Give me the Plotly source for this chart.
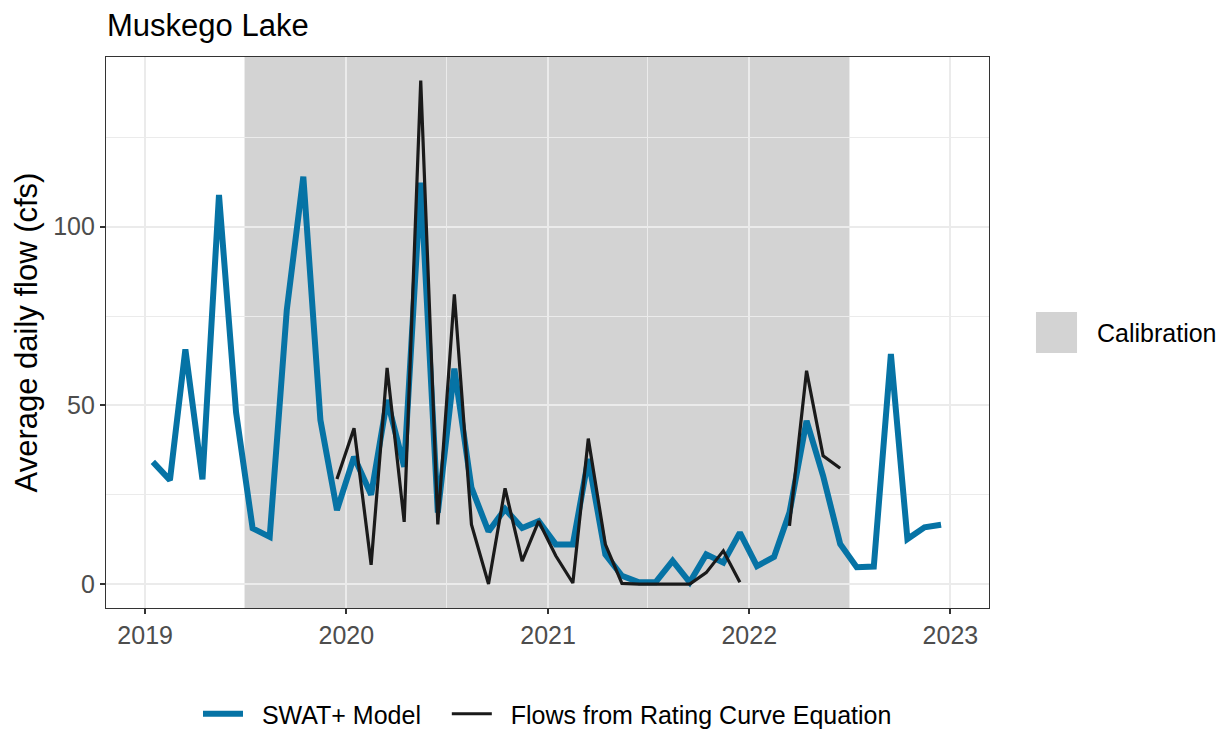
import plotly.graph_objects as go

# ---- data (monthly, plotted mid-month) ----
months = [f"{y}-{m:02d}-15" for y in (2019, 2020, 2021, 2022) for m in range(1, 13)]

swat_model = [
    34.2, 29.1, 65.7, 29.3, 108.9, 48.0, 15.6, 13.2, 76.7, 114.0, 45.9, 20.7,   # 2019
    35.6, 25.0, 51.5, 32.8, 112.3, 20.0, 60.3, 27.0, 14.7, 21.0, 15.7, 17.6,    # 2020
    11.1, 11.1, 35.0, 8.3, 2.3, 0.5, 0.5, 6.5, 0.5, 8.3, 6.0, 14.4,             # 2021
    5.0, 7.6, 20.0, 45.7, 30.3, 11.2, 4.7, 4.9, 64.4, 12.6, 15.9, 16.6,         # 2022
]

rating_curve = [
    None, None, None, None, None, None, None, None, None, None, None, 29.4,     # 2019
    43.6, 5.4, 60.5, 17.4, 140.9, 16.7, 81.1, 16.7, 0.0, 26.8, 6.4, 17.6,       # 2020
    7.9, 0.3, 40.7, 11.1, 0.2, 0.0, 0.0, 0.0, 0.0, 3.2, 9.3, 0.5,               # 2021
    None, None, 16.3, 59.7, 35.9, 32.4, None, None, None, None, None, None,     # 2022
]

calibration_start = "2019-07-01"
calibration_end = "2022-07-01"

title_text = "Muskego Lake"
y_title = "Average daily flow (cfs)"
series_names = ["SWAT+ Model", "Flows from Rating Curve Equation"]
calib_label = "Calibration"

# ---- figure ----
FONT = "Liberation Sans, Arial, sans-serif"
BLUE = "#0673A5"
BLACK = "#1A1A1A"
GRID = "#EBEBEB"
CALIB = "#D3D3D3"
NB = "\u00a0"

fig = go.Figure()
fig.add_trace(go.Scatter(
    x=months, y=swat_model, mode="lines", name=NB * 2 + series_names[0] + NB * 3,
    line=dict(color=BLUE, width=6), connectgaps=False,
))
fig.add_trace(go.Scatter(
    x=months, y=rating_curve, mode="lines", name=NB * 2 + series_names[1],
    line=dict(color=BLACK, width=3.2), connectgaps=False,
))

# calibration period
fig.add_shape(type="rect", xref="x", yref="paper",
              x0=calibration_start, x1=calibration_end, y0=0, y1=1,
              fillcolor=CALIB, line=dict(width=0), layer="below")

# calibration legend key (right side)
fig.add_shape(type="rect", xref="paper", yref="paper",
              x0=1.0532, x1=1.0997, y0=0.4628, y1=0.5372,
              fillcolor=CALIB, line=dict(width=0))
fig.add_annotation(xref="paper", yref="paper", x=1.12, y=0.499,
                   xanchor="left", yanchor="middle", showarrow=False,
                   text=calib_label, font=dict(family=FONT, size=25, color="black"))

fig.update_layout(
    width=1227, height=733,
    margin=dict(l=98, r=246, t=49, b=133),
    paper_bgcolor="white", plot_bgcolor="white",
    font=dict(family=FONT, color="black"),
    title=dict(text=title_text, x=99 / 1227, xref="container", xanchor="left",
               y=1 - 17 / 733, yref="container", yanchor="middle",
               font=dict(family=FONT, size=31, color="black")),
    showlegend=True,
    legend=dict(orientation="h", x=0.5, xanchor="center",
                y=1 - 706 / 733, yref="container", yanchor="middle",
                font=dict(family=FONT, size=25, color="black"),
                itemwidth=40, bgcolor="rgba(0,0,0,0)"),
)

fig.update_xaxes(
    type="date", range=["2018-10-22", "2023-03-12"],
    tick0="2019-01-01", dtick="M12", tickformat="%Y",
    ticks="outside", ticklen=5, tickwidth=1.5, tickcolor="#333333",
    tickfont=dict(family=FONT, size=25, color="#4D4D4D"),
    showgrid=True, gridcolor=GRID, gridwidth=1.8,
    minor=dict(tick0="2019-01-01", dtick="M6", showgrid=True, gridcolor=GRID, gridwidth=0.9, ticks=""),
    showline=True, linecolor="#333333", linewidth=1.3, mirror=True,
    zeroline=False,
)
fig.update_yaxes(
    range=[-6.7, 147.5], tick0=0, dtick=50,
    ticks="outside", ticklen=5, tickwidth=1.5, tickcolor="#333333",
    tickfont=dict(family=FONT, size=25, color="#4D4D4D"),
    showgrid=True, gridcolor=GRID, gridwidth=1.8,
    minor=dict(tick0=0, dtick=25, showgrid=True, gridcolor=GRID, gridwidth=0.9, ticks=""),
    showline=True, linecolor="#333333", linewidth=1.3, mirror=True,
    zeroline=False,
    title=dict(text=y_title, font=dict(family=FONT, size=31, color="black"), standoff=6),
)

fig.write_html("out.html")
